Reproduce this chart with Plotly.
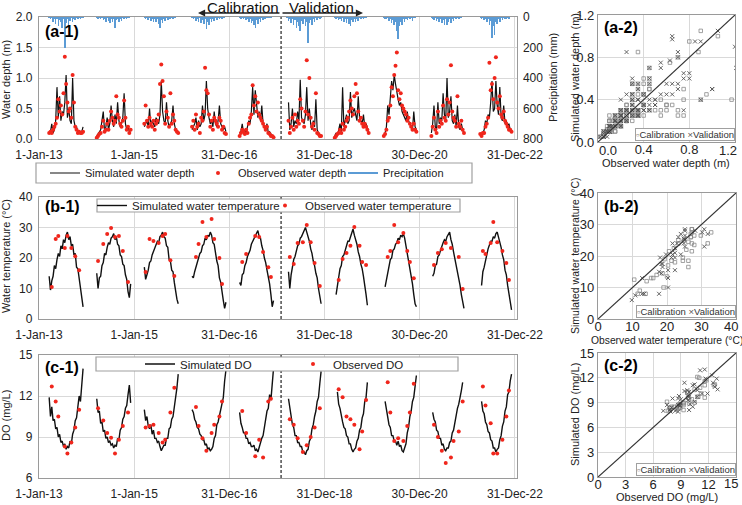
import plotly.graph_objects as go
import pandas as pd

W, H = 742, 505

# ---------------- data ----------------
years = [2013, 2014, 2015, 2016, 2017, 2018, 2019, 2020, 2021, 2022]
calibration_years = [2013, 2014, 2015, 2016, 2017]
season_start = "03-20"
step_days = 10
split_date = "2018-02-01"
date_range = ["2013-01-01", "2023-01-12"]

x_tickvals = ["2013-01-01", "2015-01-01", "2016-12-31", "2018-12-31", "2020-12-30", "2022-12-31"]
x_ticktext = ["1-Jan-13", "1-Jan-15", "31-Dec-16", "31-Dec-18", "30-Dec-20", "31-Dec-22"]

depth_ticks = [0.0, 0.4, 0.8, 1.2]
temp_ticks = [0, 10, 20, 30, 40]
do_ticks = [0, 3, 6, 9, 12, 15]

depth_sim = [
    [0.10, 0.12, 0.25, 0.10, 0.15, 0.30, 0.85, 0.35, 0.70, 0.30, 0.45, 0.40, 0.60, 1.05, 0.35, 0.50, 0.30, 0.25, 1.00, 0.30, 0.20, 0.20, 0.12, 0.10, 0.10, 0.12, 0.20],
    [0.05, 0.08, 0.10, 0.15, 0.30, 0.45, 0.12, 0.20, 0.35, 0.15, 0.25, 0.55, 0.30, 0.20, 0.40, 0.25, 0.60, 0.30, 0.20, 0.25, 0.35, 0.75, 0.25, 0.15, 0.20, 0.12, 0.15],
    [0.20, 0.25, 0.30, 0.20, 0.50, 0.20, 0.30, 0.25, 0.20, 0.35, 0.30, 0.25, 0.40, 0.95, 0.45, 0.30, 0.25, 0.60, 0.30, 0.20, 0.25, 0.30, 0.55, 0.25, 0.15, 0.12, 0.10],
    [0.15, 0.20, 0.25, 0.35, 0.15, 0.30, 0.20, 0.25, 0.55, 0.30, 0.40, 0.95, 0.50, 0.35, 0.25, 0.30, 0.20, 0.45, 0.25, 0.20, 0.30, 0.55, 0.25, 0.20, 0.15, 0.20, 0.12],
    [0.10, 0.12, 0.25, 0.10, 0.15, 0.10, 0.20, 0.30, 0.25, 0.45, 0.85, 0.40, 0.80, 0.50, 0.35, 0.45, 0.30, 0.55, 0.25, 0.20, 0.15, 0.25, 0.10, 0.12, 0.08, 0.05, 0.05],
    [None, 0.60, 0.15, 0.25, 0.50, 0.20, 0.30, 0.25, 0.45, 0.30, 0.97, 0.35, 0.30, 0.25, 0.40, 0.85, 0.30, 0.50, 0.25, 0.15, 0.30, 0.20, 0.65, 0.15, 0.10, 0.08, 0.05],
    [0.05, 0.10, 0.05, 0.15, 0.25, 0.10, 0.85, 0.20, 0.30, 0.40, 0.25, 0.30, 0.77, 0.35, 0.45, 0.50, 0.40, 0.30, 0.70, 0.35, 0.30, 0.25, 0.40, 0.20, 0.25, 0.15, 0.10],
    [None, 0.05, 0.10, 0.20, 0.55, 0.40, 0.70, 0.95, 0.80, 1.05, 0.90, 0.75, 0.65, 0.55, 0.60, 0.45, 0.40, 0.35, 0.30, 0.45, 0.30, 0.25, 0.20, 0.15, 0.45, 0.20, 0.15],
    [None, 0.10, 0.25, 0.55, 0.20, 0.15, 0.60, 0.25, 0.35, 0.30, 0.75, 0.40, 0.30, 1.00, 0.35, 0.45, 0.70, 0.30, 0.25, 0.40, 0.20, 0.55, 0.20, 0.15, 0.25, 0.15, 0.10],
    [None, None, 0.10, 0.05, 0.10, 0.15, 0.30, 0.25, 0.40, 0.35, 0.60, 0.95, 0.45, 0.50, 0.95, 0.55, 0.40, 0.85, 0.35, 0.30, 0.55, 0.25, 0.30, 0.20, 0.25, 0.15, 0.15],
]

depth_obs = [
    [0.10, 0.12, 0.10, 0.15, 0.20, 0.25, 0.35, 0.65, 0.45, 0.55, 0.40, 0.75, 1.35, 0.90, 0.60, 0.45, 0.50, 0.35, 1.05, 0.60, 0.20, 0.15, 0.10, 0.12, 0.10, 0.10, 0.12],
    [0.02, 0.05, 0.08, 0.10, 0.20, 0.30, 0.12, 0.15, 0.25, 0.15, 0.30, 0.45, 0.35, 0.25, 0.30, 0.70, 0.40, 0.35, 0.25, 0.20, 0.30, 0.63, 0.35, 0.15, 0.20, 0.10, 0.15],
    [0.25, 0.55, 0.30, 0.20, 0.35, 0.25, 0.20, 0.30, 0.15, 0.25, 0.30, 0.40, 0.90, 1.22, 0.95, 0.70, 0.25, 0.45, 0.35, 0.20, 0.75, 0.25, 0.40, 0.30, 0.15, 0.12, 0.10],
    [0.20, 0.30, 0.15, 0.40, 0.20, 0.25, 0.10, 0.35, 0.30, 0.45, 1.17, 0.80, 0.75, 0.40, 0.20, 0.30, 0.15, 0.35, 0.30, 0.25, 0.20, 0.35, 0.30, 0.15, 0.20, 0.10, 0.08],
    [0.05, 0.10, 0.15, 0.12, 0.08, 0.15, 0.10, 0.25, 0.35, 0.40, 0.88, 0.55, 0.70, 0.45, 0.60, 0.40, 0.35, 0.30, 0.25, 0.20, 0.15, 0.20, 0.10, 0.08, 0.05, 0.05, 0.03],
    [None, 0.30, 0.10, 0.20, 0.35, 0.15, 0.40, 0.20, 0.30, 0.25, 0.65, 0.50, 0.30, 0.20, 0.45, 1.29, 0.40, 1.00, 0.35, 0.20, 0.25, 0.15, 0.75, 0.10, 0.08, 0.05, 0.05],
    [0.02, 0.05, 0.08, 0.10, 0.15, 0.10, 0.25, 0.15, 0.20, 0.30, 0.35, 0.45, 0.63, 0.50, 0.40, 0.70, 0.90, 0.75, 0.45, 0.30, 0.35, 0.25, 0.20, 0.25, 0.20, 0.15, 0.10],
    [None, 0.05, 0.08, 0.15, 0.30, 0.35, 0.55, 0.85, 0.70, 1.05, 1.20, 1.42, 0.80, 0.65, 0.75, 0.55, 0.50, 0.45, 0.40, 0.30, 0.35, 0.25, 0.20, 0.15, 0.25, 0.15, 0.12],
    [None, 0.05, 0.20, 0.35, 0.15, 0.10, 0.45, 0.20, 0.30, 0.25, 0.55, 0.35, 0.30, 0.65, 0.40, 0.60, 1.21, 0.45, 0.35, 0.30, 0.20, 0.70, 0.25, 0.20, 0.30, 0.15, 0.10],
    [None, None, 0.08, 0.05, 0.10, 0.10, 0.20, 0.25, 0.35, 1.25, 0.80, 0.90, 0.65, 1.00, 1.34, 0.60, 0.50, 0.70, 0.40, 0.35, 0.45, 0.30, 0.25, 0.20, 0.15, 0.15, 0.12],
]

precip_mm = [
    [2, 15, 5, 30, 8, 45, 12, 60, 20, 35, 70, 15, 200, 40, 10, 55, 25, 5, 35, 10, 20, 3, 15, 5, 8, 2, 5],
    [3, 8, 2, 15, 5, 20, 10, 30, 5, 25, 40, 10, 35, 15, 70, 20, 8, 30, 12, 25, 5, 15, 3, 10, 2, 5, 0],
    [2, 10, 5, 20, 3, 25, 8, 35, 15, 30, 10, 45, 70, 20, 40, 10, 25, 5, 20, 8, 15, 3, 10, 2, 5, 0, 0],
    [5, 15, 3, 25, 10, 30, 5, 40, 20, 45, 15, 80, 30, 50, 10, 35, 8, 25, 5, 20, 3, 10, 5, 8, 2, 3, 0],
    [2, 8, 3, 15, 5, 20, 10, 30, 15, 40, 25, 50, 70, 20, 45, 10, 30, 5, 20, 8, 15, 3, 5, 2, 3, 0, 0],
    [5, 25, 10, 40, 15, 55, 20, 70, 30, 60, 90, 25, 45, 15, 60, 30, 170, 40, 20, 50, 10, 35, 5, 20, 3, 10, 2],
    [2, 10, 3, 20, 8, 25, 5, 35, 15, 40, 10, 45, 60, 20, 35, 8, 30, 12, 25, 5, 15, 3, 10, 2, 5, 0, 0],
    [0, 3, 8, 15, 5, 25, 10, 40, 20, 55, 30, 90, 145, 60, 35, 50, 15, 30, 8, 20, 5, 10, 3, 25, 2, 5, 0],
    [0, 2, 8, 20, 5, 25, 10, 35, 15, 40, 20, 50, 10, 55, 30, 15, 40, 8, 25, 5, 15, 3, 10, 2, 5, 0, 0],
    [0, 0, 3, 10, 5, 20, 8, 30, 15, 50, 25, 140, 60, 120, 30, 45, 10, 30, 5, 20, 3, 10, 15, 2, 8, 0, 0],
]

temp_sim = [
    [14.0, 9.5, 12.5, 14.0, 17.5, 16.5, 19.5, 21.5, 20.5, 24.0, 23.0, 26.0, 25.0, 27.5, 28.5, 26.0, 27.0, 24.0, 24.5, 21.0, 21.5, 17.0, 16.5, 13.0, 10.5, 7.5, 4.0],
    [15.0, 10.0, 13.5, 14.0, 17.5, 18.5, 21.5, 21.0, 23.5, 25.0, 24.5, 26.5, 27.0, 28.0, 26.0, 27.0, 24.5, 24.0, 21.0, 20.5, 18.0, 17.5, 14.5, 13.0, 9.0, 7.0, 11.5],
    [17.0, 13.0, 14.5, 16.0, 18.5, 19.0, 21.0, 22.0, 23.5, 24.0, 25.5, 25.0, 27.0, 27.5, 28.5, 27.0, 26.5, 24.0, 23.5, 19.5, 19.0, 16.0, 15.5, 12.0, 9.0, 6.5, 5.0],
    [14.0, 13.5, 15.5, 17.0, 18.5, 19.5, 21.5, 22.0, 24.0, 24.5, 26.5, 26.0, 27.5, 27.0, 28.5, 27.5, 25.0, 24.5, 21.0, 19.0, 17.5, 13.5, 12.0, 8.0, 6.0, 3.5, 5.5],
    [12.0, 11.0, 14.5, 15.0, 17.5, 18.5, 20.5, 21.5, 22.5, 24.5, 25.5, 26.5, 27.5, 28.0, 29.0, 27.0, 26.5, 24.0, 22.5, 20.0, 18.5, 16.0, 14.0, 11.5, 8.0, 4.0, 6.0],
    [None, 15.5, 10.0, 14.5, 17.0, 19.5, 20.5, 22.5, 24.0, 24.5, 26.5, 27.0, 28.0, 29.0, 30.0, 28.5, 27.0, 25.5, 23.0, 21.5, 19.0, 17.5, 15.0, 13.5, 10.0, 7.5, 5.0],
    [None, 8.0, 11.5, 13.0, 16.5, 17.5, 20.5, 21.0, 22.5, 24.0, 25.5, 25.5, 27.0, 28.0, 29.5, 27.5, 26.0, 24.5, 22.0, 20.5, 18.0, 16.5, 14.0, 11.5, 8.0, 4.5, None],
    [None, None, 10.5, 13.0, 15.5, 17.0, 19.5, 20.0, 22.5, 23.0, 24.5, 25.0, 26.5, 26.0, 27.5, 27.0, 28.0, 26.5, 24.0, 22.5, 19.5, 17.5, 14.0, 11.5, 8.0, 5.0, 4.0],
    [None, None, 14.0, 15.0, 17.5, 18.0, 20.5, 21.0, 22.5, 24.0, 25.0, 26.0, 25.5, 27.0, 28.0, 28.5, 26.0, 24.5, 22.0, 20.0, 17.5, 15.0, 13.0, 11.0, 8.0, 6.0, 3.5],
    [None, None, None, 11.0, 15.5, 17.0, 19.5, 21.0, 23.0, 24.0, 25.5, 25.5, 27.0, 26.5, 28.0, 28.5, 27.0, 25.0, 23.5, 21.0, 19.5, 16.0, 14.5, 11.0, 8.0, 5.0, 3.0],
]

do_sim = [
    [11.9, 10.5, 11.2, 10.2, 10.3, 9.6, 9.7, 9.0, 9.2, 8.6, 8.7, 8.3, 8.5, 8.1, 8.3, 8.2, 8.7, 8.5, 9.2, 9.5, 10.2, 10.4, 11.2, 12.0, 11.6, 12.9, 14.0],
    [11.8, 10.8, 10.9, 10.0, 10.1, 9.4, 9.5, 8.9, 9.0, 8.6, 8.7, 8.4, 8.5, 8.2, 8.4, 8.3, 8.9, 8.8, 9.5, 9.7, 10.3, 10.5, 11.1, 11.3, 12.1, 12.8, 11.5],
    [11.0, 10.2, 10.5, 9.8, 9.6, 9.9, 9.2, 9.5, 8.9, 8.9, 8.6, 8.7, 8.3, 8.0, 8.2, 8.4, 8.4, 8.9, 8.9, 9.6, 9.7, 10.3, 10.5, 11.1, 11.7, 12.6, 13.6],
    [11.0, 10.8, 10.3, 10.1, 9.7, 9.6, 9.2, 9.1, 8.8, 8.8, 8.4, 8.5, 8.1, 8.2, 8.0, 8.1, 8.3, 8.9, 9.1, 9.9, 10.1, 10.6, 10.9, 11.6, 11.9, 13.1, 13.9],
    [10.8, 10.0, 9.7, 9.3, 9.3, 8.9, 8.9, 8.5, 8.6, 8.3, 8.3, 8.4, 8.0, 8.1, 7.9, 8.3, 8.5, 8.9, 9.1, 9.7, 10.1, 10.9, 11.1, 12.1, 11.7, 12.9, 14.0],
    [None, 11.8, 11.1, 10.5, 9.9, 9.7, 9.1, 9.1, 8.6, 8.6, 8.3, 8.3, 7.9, 7.9, 7.7, 8.0, 8.1, 8.7, 8.9, 9.6, 9.9, 10.5, 10.9, 11.6, 11.9, 12.9, 13.8],
    [None, None, 12.3, 11.4, 11.1, 10.4, 10.1, 9.7, 9.6, 9.1, 9.0, 8.5, 8.5, 8.1, 7.9, 8.1, 8.2, 8.7, 8.9, 9.5, 9.7, 10.4, 10.7, 11.6, 11.9, 13.0, None],
    [None, None, 11.6, 10.9, 10.6, 9.9, 9.7, 9.1, 9.1, 8.7, 8.7, 8.4, 8.7, 8.3, 8.4, 8.0, 7.9, 8.3, 8.5, 9.3, 9.7, 10.5, 10.9, 11.6, 11.9, 12.7, 13.5],
    [None, None, 10.8, 10.3, 10.1, 9.5, 9.4, 8.9, 8.9, 8.4, 8.5, 8.1, 8.0, 8.2, 8.2, 8.6, 8.7, 9.3, 9.5, 10.1, 10.4, 11.1, 11.4, 12.1, 12.4, 13.0, None],
    [None, None, None, 11.6, 10.9, 10.7, 10.1, 9.9, 9.4, 9.3, 8.8, 8.7, 8.2, 8.2, 7.9, 8.1, 8.2, 8.8, 9.1, 9.8, 10.1, 10.9, 11.2, 12.1, 12.3, 13.1, 13.6],
]

wq_obs_idx = [
    [2, 5, 7, 12, 14, 17, 20, 23],
    [1, 5, 8, 11, 14, 17, 20, 24],
    [1, 4, 7, 11, 14, 16, 20, 23],
    [3, 5, 8, 11, 15, 17, 21, 23],
    [2, 5, 12, 15, 18, 22, 24],
    [2, 5, 8, 12, 15, 18, 21, 25],
    [3, 6, 9, 12, 15, 19, 21, 24],
    [4, 6, 9, 12, 16, 19, 21, 24],
    [3, 6, 9, 12, 16, 18, 22, 25],
    [4, 6, 10, 12, 15, 19, 22, 24],
]

temp_obs = [
    [10.5, 26.2, 27.2, 23.3, 27.2, 23.3, 20.6, 16.0],
    [19.0, 24.6, 27.9, 29.8, 26.9, 27.2, 22.3, 12.1],
    [15.4, 26.2, 25.6, 24.9, 27.2, 27.9, 19.3, 14.1],
    [20.3, 24.6, 31.8, 26.9, 32.8, 26.2, 20.0, 11.5],
    [18.7, 21.3, 27.2, 26.9, 22.0, 17.0, 13.8],
    [20.3, 18.0, 24.9, 25.2, 30.8, 25.2, 18.4, 10.8],
    [12.8, 19.7, 21.6, 24.0, 30.2, 24.0, 18.7, 17.7],
    [20.3, 22.3, 30.8, 25.2, 28.2, 22.3, 18.7, 13.4],
    [17.7, 21.6, 22.9, 24.9, 23.3, None, 20.3, 9.8],
    [22.3, 21.3, 24.9, 31.8, 25.2, 22.3, 18.4, 12.8],
]

do_obs = [
    [12.7, 11.6, 10.5, 8.3, 7.8, 8.6, 9.7, 11.0],
    [11.1, 10.2, 9.3, 8.95, 7.8, 8.8, 9.8, 10.8],
    [9.7, 9.8, 9.9, 9.3, 8.6, 8.8, 10.8, 12.6],
    [11.2, 9.8, 8.9, 8.0, 9.3, 9.9, 10.5, 11.6],
    [10.9, 9.3, 7.6, 8.8, 7.5, 11.6, 11.8],
    [10.3, 9.9, 8.9, 7.9, 8.4, 9.0, 9.7, 11.1],
    [12.5, 11.9, 10.5, 10.3, 9.9, 8.1, 9.4, 11.7],
    [13.0, 10.8, 8.7, 8.9, 8.7, 9.8, 10.8, 12.9],
    [9.9, 9.0, 8.0, 7.1, 7.5, 8.7, 9.4, 11.6],
    [12.7, 11.3, 10.0, 7.8, 7.8, 8.8, 10.5, 12.4],
]

# ---------------- helpers ----------------
def fx(p):
    return p / W

def fy(p):
    return 1 - p / H

def season_dates(year, n):
    start = pd.Timestamp(f"{year}-{season_start}")
    return [start + pd.Timedelta(days=step_days * k) for k in range(n)]

def concat(series):
    xs, ys = [], []
    for yr, vals in zip(years, series):
        xs += season_dates(yr, len(vals)) + [None]
        ys += list(vals) + [None]
    return xs, ys

def obs_points(idx_lists, val_lists):
    xs, ys = [], []
    for yr, idx, vals in zip(years, idx_lists, val_lists):
        d = season_dates(yr, 27)
        for i, v in zip(idx, vals):
            if v is not None:
                xs.append(d[i]); ys.append(v)
    return xs, ys

def pairs_grid(obs, sim):
    cal, val = ([], []), ([], [])
    for yr, o, s in zip(years, obs, sim):
        tgt = cal if yr in calibration_years else val
        for a, b in zip(o, s):
            if a is not None and b is not None:
                tgt[0].append(a); tgt[1].append(b)
    return cal, val

def pairs_idx(idx_lists, obs, sim):
    cal, val = ([], []), ([], [])
    for yr, idx, o, s in zip(years, idx_lists, obs, sim):
        tgt = cal if yr in calibration_years else val
        for i, a in zip(idx, o):
            b = s[i]
            if a is not None and b is not None:
                tgt[0].append(a); tgt[1].append(b)
    return cal, val

FONT = "Liberation Sans, Arial, Helvetica, sans-serif"
GRID = "#d9d9d9"
AXC = "#9a9a9a"
RED = "#f0261c"
BLUE = "#5b9bd5"

fig = go.Figure()

# ---- (a-1) ----
px_, py_ = concat(precip_mm)
fig.add_trace(go.Bar(x=px_, y=py_, xaxis="x", yaxis="y2", marker=dict(color=BLUE, line=dict(width=0)),
                     width=4 * 86400000, showlegend=False, name="Precipitation"))
sx, sy = concat(depth_sim)
fig.add_trace(go.Scatter(x=sx, y=sy, mode="lines", line=dict(color="#111", width=1.2),
                         name="Simulated water depth", xaxis="x", yaxis="y", legend="legend"))
ox, oy = concat(depth_obs)
fig.add_trace(go.Scatter(x=ox, y=oy, mode="markers", marker=dict(color=RED, size=4),
                         name="Observed water depth", xaxis="x", yaxis="y", legend="legend2"))
fig.add_trace(go.Scatter(x=[None], y=[None], mode="lines", line=dict(color=BLUE, width=2),
                         name="Precipitation", xaxis="x", yaxis="y2", legend="legend3"))

# ---- (b-1) ----
tx, ty = concat(temp_sim)
fig.add_trace(go.Scatter(x=tx, y=ty, mode="lines", line=dict(color="#111", width=1.4),
                         name="Simulated water temperature", xaxis="x2", yaxis="y3", legend="legend4"))
tox, toy = obs_points(wq_obs_idx, temp_obs)
fig.add_trace(go.Scatter(x=tox, y=toy, mode="markers", marker=dict(color=RED, size=4),
                         name="Observed water temperature", xaxis="x2", yaxis="y3", legend="legend5"))

# ---- (c-1) ----
dx, dy = concat(do_sim)
fig.add_trace(go.Scatter(x=dx, y=dy, mode="lines", line=dict(color="#111", width=1.4),
                         name="Simulated DO", xaxis="x3", yaxis="y4", legend="legend6"))
dox, doy = obs_points(wq_obs_idx, do_obs)
fig.add_trace(go.Scatter(x=dox, y=doy, mode="markers", marker=dict(color=RED, size=4),
                         name="Observed DO", xaxis="x3", yaxis="y4", legend="legend7"))

# ---- scatter panels ----
cal_style = dict(symbol="square-open", size=3.5, color="#8a8a8a", line=dict(width=0.8, color="#8a8a8a"))
val_style = dict(symbol="x-thin", size=4, color="#555555", line=dict(width=0.9, color="#555555"))
for (cal, val), xa, ya in [
    (pairs_grid(depth_obs, depth_sim), "x4", "y5"),
    (pairs_idx(wq_obs_idx, temp_obs, temp_sim), "x5", "y6"),
    (pairs_idx(wq_obs_idx, do_obs, do_sim), "x6", "y7"),
]:
    fig.add_trace(go.Scatter(x=cal[0], y=cal[1], mode="markers", marker=cal_style, name="Calibration",
                             xaxis=xa, yaxis=ya, showlegend=False))
    fig.add_trace(go.Scatter(x=val[0], y=val[1], mode="markers", marker=val_style, name="Validation",
                             xaxis=xa, yaxis=ya, showlegend=False))

# ---------------- layout ----------------
tick_font = dict(family=FONT, size=12, color="#222")
sc_tick_font = dict(family=FONT, size=13, color="#222")

def ts_x(anchor):
    return dict(domain=[fx(39), fx(516.5)], anchor=anchor, type="date", range=date_range,
                tickvals=x_tickvals, ticktext=x_ticktext, showgrid=True, gridcolor=GRID,
                showline=True, mirror=True, linecolor=AXC, linewidth=1.3, zeroline=False,
                ticks="outside", ticklen=4, tickcolor="rgba(0,0,0,0)", tickfont=tick_font)

def lin_y(dom, rng, dtick, fmt=None, anchor="x"):
    d = dict(domain=dom, anchor=anchor, range=rng, dtick=dtick, showgrid=True, gridcolor=GRID,
             showline=True, mirror=True, linecolor=AXC, linewidth=1.3, zeroline=False,
             ticks="outside", ticklen=3, tickcolor="rgba(0,0,0,0)", tickfont=tick_font)
    if fmt:
        d["tickformat"] = fmt
    return d

edge_labels = []  # end labels of scatter x-axes, nudged inward like the original

def sc_ax(dom, ticks, anchor, fmt, is_x=False, label_y=None, nudge_first=False):
    labels = [format(t, fmt) for t in ticks]
    if is_x:
        edge_labels.append((labels[-1], dom[1], label_y, "right"))
        labels[-1] = ""
        if nudge_first:
            edge_labels.append((labels[0], dom[0], label_y, "left"))
            labels[0] = ""
    d = dict(domain=dom, anchor=anchor, range=[ticks[0], ticks[-1]], tickvals=ticks, ticktext=labels,
             showgrid=True, gridcolor=GRID,
             showline=True, mirror=True, linecolor=AXC, linewidth=1.3, zeroline=False,
             ticks="", tickfont=sc_tick_font, ticklabeloverflow="allow")
    if is_x:
        d["ticklabelstandoff"] = -5
    return d

def single_legend(text_left, yc, size):
    return dict(orientation="v", x=fx(text_left - 40), y=fy(yc), xanchor="left", yanchor="middle",
                bgcolor="rgba(0,0,0,0)", borderwidth=0, font=dict(size=size, family=FONT, color="#222"),
                itemwidth=30)

layout = dict(
    width=W, height=H, margin=dict(l=0, r=0, t=0, b=0, pad=0, autoexpand=False),
    paper_bgcolor="white", plot_bgcolor="white",
    font=dict(family=FONT, size=11, color="#222"),
    bargap=0,
    xaxis=ts_x("y"),
    yaxis=lin_y([fy(139), fy(17)], [0, 2], 0.5, ".1f", "x"),
    yaxis2=dict(overlaying="y", side="right", anchor="x", range=[800, 0], dtick=200, showgrid=False,
                zeroline=False, showline=False, ticks="outside", ticklen=3, tickcolor="rgba(0,0,0,0)",
                tickfont=tick_font),
    xaxis2=ts_x("y3"),
    yaxis3=lin_y([fy(319), fy(197)], [0, 40], 10, None, "x2"),
    xaxis3=ts_x("y4"),
    yaxis4=lin_y([fy(478), fy(355)], [6, 15], 3, None, "x3"),
    xaxis4=sc_ax([fx(598), fx(735)], depth_ticks, "y5", ".1f", True, 150, True),
    yaxis5=sc_ax([fy(142), fy(15)], depth_ticks, "x4", ".1f"),
    xaxis5=sc_ax([fx(598), fx(736)], temp_ticks, "y6", "d", True, 326),
    yaxis6=sc_ax([fy(319), fy(193)], temp_ticks, "x5", "d"),
    xaxis6=sc_ax([fx(598), fx(736)], do_ticks, "y7", "d", True, 483),
    yaxis7=sc_ax([fy(477), fy(353)], do_ticks, "x6", "d"),
    legend=single_legend(85, 173, 11),
    legend2=single_legend(238, 173, 11),
    legend3=single_legend(383, 173, 11),
    legend4=single_legend(132, 205.5, 11.5),
    legend5=single_legend(305, 205.5, 11.5),
    legend6=single_legend(180, 364, 11.5),
    legend7=single_legend(333, 364, 11.5),
)

shapes = []
# calibration / validation split
for xa, ya in [("x", "y"), ("x2", "y3"), ("x3", "y4")]:
    shapes.append(dict(type="line", xref=xa, yref=f"{ya} domain",
                       x0=split_date, x1=split_date, y0=0, y1=1,
                       line=dict(color="#222", width=1.2, dash="3px,2px"), layer="above"))
# 1:1 lines
for xa, ya, tk in [("x4", "y5", depth_ticks), ("x5", "y6", temp_ticks), ("x6", "y7", do_ticks)]:
    shapes.append(dict(type="line", xref=xa, yref=ya, x0=tk[0], y0=tk[0], x1=tk[-1], y1=tk[-1],
                       line=dict(color="#333", width=1.2), layer="above"))
# legend boxes
for (l, t, r, b) in [(36, 163, 472, 183), (97, 199, 460, 212), (96, 357, 458, 371)]:
    shapes.append(dict(type="rect", xref="paper", yref="paper", x0=fx(l), x1=fx(r), y0=fy(b), y1=fy(t),
                       line=dict(color="#a0a0a0", width=1.2), fillcolor="white", layer="above"))
layout["shapes"] = shapes

ann = []
for txt, x, y in [("(a-1)", 43, 31), ("(b-1)", 43, 207), ("(c-1)", 43, 367),
                  ("(a-2)", 602, 27), ("(b-2)", 602, 207), ("(c-2)", 602, 365)]:
    ann.append(dict(text=f"<b>{txt}</b>", x=fx(x), y=fy(y), xref="paper", yref="paper",
                    xanchor="left", yanchor="middle", showarrow=False, font=dict(family=FONT, size=16, color="black")))
# end tick labels of the scatter x-axes
for txt, xd, yl, anc in edge_labels:
    xpos = xd + fx(4) if anc == "right" else xd - fx(1)
    ann.append(dict(text=txt, x=xpos, y=fy(yl), xref="paper", yref="paper", xanchor=anc, yanchor="middle",
                    showarrow=False, font=sc_tick_font))
# axis titles
for txt, x, y, ang, sz in [
    ("Water depth (m)", 6, 80, -90, 11),
    ("Precipitation (mm)", 553, 78, -90, 11),
    ("Water temperature (°C)", 6, 256, -90, 11),
    ("DO (mg/L)", 6, 416, -90, 11),
    ("Simulated water depth (m)", 575, 78, -90, 11),
    ("Observed water depth (m)", 666, 163, 0, 11),
    ("Simulated water temperature (°C)", 575, 256, -90, 10.5),
    ("Observed water temperature (°C)", 667, 340, 0, 10.3),
    ("Simulated DO (mg/L)", 575, 415, -90, 11),
    ("Observed DO (mg/L)", 667, 497, 0, 11),
]:
    ann.append(dict(text=txt, x=fx(x), y=fy(y), xref="paper", yref="paper", textangle=ang,
                    xanchor="center", yanchor="middle", showarrow=False,
                    font=dict(family=FONT, size=sz, color="#222")))
# calibration/validation arrows
ann.append(dict(x=fx(198), y=fy(13), xref="paper", yref="paper", text="", showarrow=True,
                ax=83, ay=0, arrowhead=2, arrowsize=1.1, arrowwidth=1.3, arrowcolor="#222"))
ann.append(dict(x=fx(363), y=fy(13), xref="paper", yref="paper", text="", showarrow=True,
                ax=-82, ay=0, arrowhead=2, arrowsize=1.1, arrowwidth=1.3, arrowcolor="#222"))
ann.append(dict(text="Calibration", x=fx(243), y=fy(7.5), xref="paper", yref="paper", showarrow=False,
                font=dict(family=FONT, size=15, color="#111"), xanchor="center", yanchor="middle"))
ann.append(dict(text="Validation", x=fx(321), y=fy(7.5), xref="paper", yref="paper", showarrow=False,
                font=dict(family=FONT, size=15, color="#111"), xanchor="center", yanchor="middle"))
# scatter legends
leg_txt = "<span style='color:#8a8a8a'>▫</span>Calibration <span style='color:#555'>×</span>Validation"
for (r, b) in [(735, 141), (736, 318), (736, 476)]:
    ann.append(dict(text=leg_txt, x=fx(r), y=fy(b), xref="paper", yref="paper", showarrow=False,
                    xanchor="right", yanchor="bottom", bgcolor="white", bordercolor="#a0a0a0",
                    borderwidth=1, borderpad=0, font=dict(family=FONT, size=9.5, color="#333")))
layout["annotations"] = ann

fig.update_layout(**layout)
fig.write_html("out.html", config={"displayModeBar": False},
               post_script="document.body.style.margin='0';")
